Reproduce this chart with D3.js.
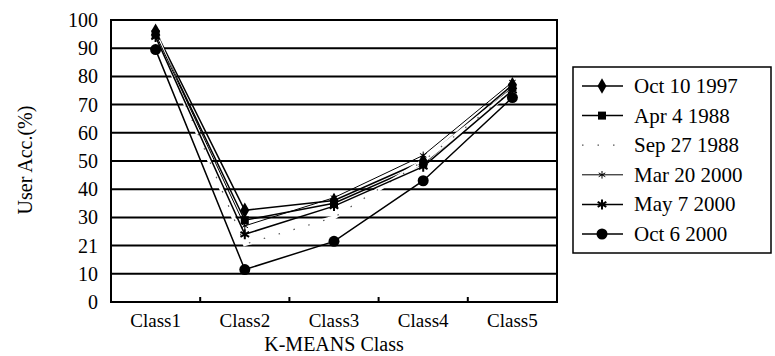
<!DOCTYPE html>
<html>
<head>
<meta charset="utf-8">
<style>
  body { margin: 0; background: #fff; }
  svg text { font-family: "Liberation Serif", "Times New Roman", Tinos, Times, "DejaVu Serif", serif !important; fill: #000; }
</style>
</head>
<body>
<svg width="775" height="356"></svg>
<script src="https://cdn.jsdelivr.net/npm/d3@7"></script>
<script>
  // data
  var classes = ["Class1", "Class2", "Class3", "Class4", "Class5"];
  var seriesNames = ["Oct 10 1997", "Apr 4 1988", "Sep 27 1988", "Mar 20 2000", "May 7 2000", "Oct 6 2000"];
  var oct1997 = [96, 32.5, 36, 50, 77];
  var apr1988 = [95, 29, 35, 49, 76];
  var sep1988 = [95, 20.5, 30, 50, 75];
  var mar2000 = [95, 27, 37, 52, 78];
  var may2000 = [94, 24, 34, 48, 75];
  var oct2000 = [89.5, 11.5, 21.5, 43, 72.5];
  var yTicks = [0, 10, 20, 30, 40, 50, 60, 70, 80, 90, 100];
  var yTickLabels = ["0", "10", "21", "30", "40", "50", "60", "70", "80", "90", "100"];

  var allValues = [oct1997, apr1988, sep1988, mar2000, may2000, oct2000];
  var markers = ["diamond", "square", "none", "star", "cross", "circle"];

  var svg = d3.select("svg");
  var pLeft = 111, pRight = 557, pTop = 20, pBottom = 302;

  var x = d3.scaleBand().domain(classes).range([pLeft, pRight]);
  var y = d3.scaleLinear().domain([0, 100]).range([pBottom, pTop]);

  // gridlines
  svg.append("g")
    .selectAll("line")
    .data(yTicks)
    .enter().append("line")
    .attr("x1", pLeft).attr("x2", pRight)
    .attr("y1", d => y(d)).attr("y2", d => y(d))
    .attr("stroke", "#000")
    .attr("stroke-width", 2);

  // plot border
  svg.append("rect")
    .attr("x", pLeft).attr("y", pTop)
    .attr("width", pRight - pLeft).attr("height", pBottom - pTop)
    .attr("fill", "none")
    .attr("stroke", "#000")
    .attr("stroke-width", 2);

  // y axis labels
  var yAxis = d3.axisLeft(y)
    .tickValues(yTicks)
    .tickSize(0)
    .tickPadding(13)
    .tickFormat((d, i) => yTickLabels[i]);
  var yg = svg.append("g").attr("transform", "translate(" + pLeft + ",0)").call(yAxis);
  yg.attr("font-family", null);
  yg.select(".domain").remove();
  yg.selectAll("text").style("font-size", "20px");

  // x axis
  var xAxis = d3.axisBottom(x).tickSize(0).tickPadding(12);
  var xg = svg.append("g").attr("transform", "translate(0," + pBottom + ")").call(xAxis);
  xg.attr("font-family", null);
  xg.select(".domain").remove();
  xg.selectAll("text").style("font-size", "19px");

  // inward ticks at category boundaries
  svg.append("g")
    .selectAll("line")
    .data(classes.slice(1))
    .enter().append("line")
    .attr("x1", d => x(d)).attr("x2", d => x(d))
    .attr("y1", pBottom).attr("y2", pBottom - 5)
    .attr("stroke", "#000")
    .attr("stroke-width", 2);

  // axis titles
  svg.append("text")
    .attr("x", (pLeft + pRight) / 2).attr("y", 351)
    .attr("text-anchor", "middle")
    .style("font-size", "20px")
    .text("K-MEANS Class");

  svg.append("text")
    .attr("transform", "translate(32,160) rotate(-90)")
    .attr("text-anchor", "middle")
    .style("font-size", "20px")
    .text("User Acc.(%)");

  var line = d3.line()
    .x((d, i) => x(classes[i]) + x.bandwidth() / 2)
    .y(d => y(d));

  function drawMarker(g, type, cx, cy) {
    if (type === "diamond") {
      g.append("path").attr("d", d3.symbol().type(d3.symbolDiamond).size(70)())
        .attr("transform", "translate(" + cx + "," + cy + ")").attr("fill", "#000");
    } else if (type === "square") {
      g.append("rect").attr("x", cx - 4).attr("y", cy - 4).attr("width", 8).attr("height", 8).attr("fill", "#000");
    } else if (type === "circle") {
      g.append("circle").attr("cx", cx).attr("cy", cy).attr("r", 5.5).attr("fill", "#000");
    } else if (type === "star") {
      g.append("path").attr("d", d3.symbol().type(d3.symbolAsterisk).size(40)())
        .attr("transform", "translate(" + cx + "," + cy + ")")
        .attr("fill", "none").attr("stroke", "#000").attr("stroke-width", 1);
    } else if (type === "cross") {
      g.append("path").attr("d", d3.symbol().type(d3.symbolAsterisk).size(70)())
        .attr("transform", "translate(" + cx + "," + cy + ")")
        .attr("fill", "none").attr("stroke", "#000").attr("stroke-width", 2);
    }
  }

  // series
  var plot = svg.append("g");
  allValues.forEach(function (vals, s) {
    if (s === 2) {
      plot.append("path").datum(vals).attr("d", line)
        .attr("fill", "none").attr("stroke", "#fff").attr("stroke-width", 4);
      plot.append("path").datum(vals).attr("d", line)
        .attr("fill", "none").attr("stroke", "#555").attr("stroke-width", 1.2)
        .attr("stroke-dasharray", "1.5,14");
      return;
    }
    plot.append("path").datum(vals).attr("d", line)
      .attr("fill", "none").attr("stroke", "#000")
      .attr("stroke-width", s === 3 ? 1 : 1.5);
  });
  allValues.forEach(function (vals, s) {
    vals.forEach(function (v, i) {
      drawMarker(plot, markers[s], x(classes[i]) + x.bandwidth() / 2, y(v));
    });
  });

  // legend
  var lg = svg.append("g");
  lg.append("rect")
    .attr("x", 573).attr("y", 67).attr("width", 198).attr("height", 186)
    .attr("fill", "#fff").attr("stroke", "#000").attr("stroke-width", 1.5);

  seriesNames.forEach(function (name, s) {
    var cy = 86 + s * 29.6;
    if (s === 2) {
      lg.append("line").attr("x1", 582).attr("x2", 623).attr("y1", cy).attr("y2", cy)
        .attr("stroke", "#555").attr("stroke-width", 1.2).attr("stroke-dasharray", "1.5,14");
    } else {
      lg.append("line").attr("x1", 582).attr("x2", 623).attr("y1", cy).attr("y2", cy)
        .attr("stroke", "#000").attr("stroke-width", s === 3 ? 1 : 1.5);
    }
    drawMarker(lg, markers[s], 602, cy);
    lg.append("text").attr("x", 634).attr("y", cy + 7)
      .style("font-size", "21px")
      .text(name);
  });
</script>
</body>
</html>
